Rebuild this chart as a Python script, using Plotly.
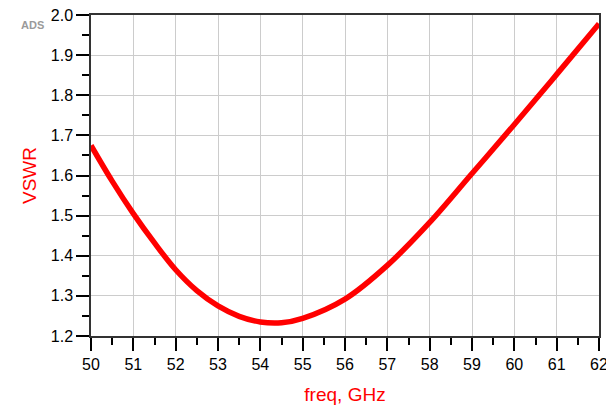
import plotly.graph_objects as go

freq_ghz = [50, 50.5, 51, 51.5, 52, 52.5, 53, 53.5, 54, 54.5, 55, 56, 57, 58, 59, 60, 61, 62]
vswr = [1.675, 1.586, 1.505, 1.432, 1.365, 1.313, 1.275, 1.249, 1.235, 1.233,
        1.244, 1.292, 1.376, 1.483, 1.605, 1.727, 1.852, 1.978]
x_ticks = list(range(50, 63))
y_ticks = [1.2, 1.3, 1.4, 1.5, 1.6, 1.7, 1.8, 1.9, 2.0]
y_tick_text = ["1.2", "1.3", "1.4", "1.5", "1.6", "1.7", "1.8", "1.9", "2.0"]

fig = go.Figure()
fig.add_trace(go.Scatter(
    x=freq_ghz, y=vswr, mode="lines",
    line=dict(color="#ff0000", width=5.5, shape="spline", smoothing=1.0),
    showlegend=False, hoverinfo="skip", cliponaxis=True,
))

font = "Liberation Sans, Arial, sans-serif"
# page body has an 8px default margin, so the figure is sized to fit the 614x405 window
fig.update_layout(
    width=606, height=397,
    margin=dict(l=83, r=15, t=7, b=69, autoexpand=False),
    paper_bgcolor="white", plot_bgcolor="white",
    font=dict(family=font, color="black", size=16),
    xaxis=dict(
        range=[50, 62], tickvals=x_ticks, ticks="outside", ticklen=13,
        tickwidth=1.5, tickcolor="black", automargin=False,
        ticklabeloverflow="allow",
        showline=True, linecolor="#333333", linewidth=1.5, mirror=True,
        showgrid=True, gridcolor="#cccccc", gridwidth=1, zeroline=False,
        tickfont=dict(size=16, family=font),
        minor=dict(dtick=0.5, ticks="outside", ticklen=7, tickcolor="black",
                   tickwidth=1.5, showgrid=False),
        title=dict(text="freq, GHz", font=dict(size=19, color="#ff0000", family=font),
                   standoff=25),
    ),
    yaxis=dict(
        range=[1.2, 2.0], tickvals=y_ticks, ticktext=y_tick_text,
        ticks="outside", ticklen=13, tickwidth=1.5, tickcolor="black",
        automargin=False, ticklabeloverflow="allow",
        showline=True, linecolor="#333333", linewidth=1.5, mirror=True,
        showgrid=True, gridcolor="#cccccc", gridwidth=1, zeroline=False,
        tickfont=dict(size=16, family=font),
        minor=dict(dtick=0.05, ticks="outside", ticklen=7, tickcolor="black",
                   tickwidth=1.5, showgrid=False),
        title=dict(text="VSWR", font=dict(size=19, color="#ff0000", family=font),
                   standoff=9),
    ),
    annotations=[dict(
        text="<b>ADS</b>", xref="paper", yref="paper", x=-0.116, y=0.969,
        showarrow=False, font=dict(size=11, color="#9a9a9a", family=font),
        xanchor="center", yanchor="middle",
    )],
)

fig.write_html("out.html")
